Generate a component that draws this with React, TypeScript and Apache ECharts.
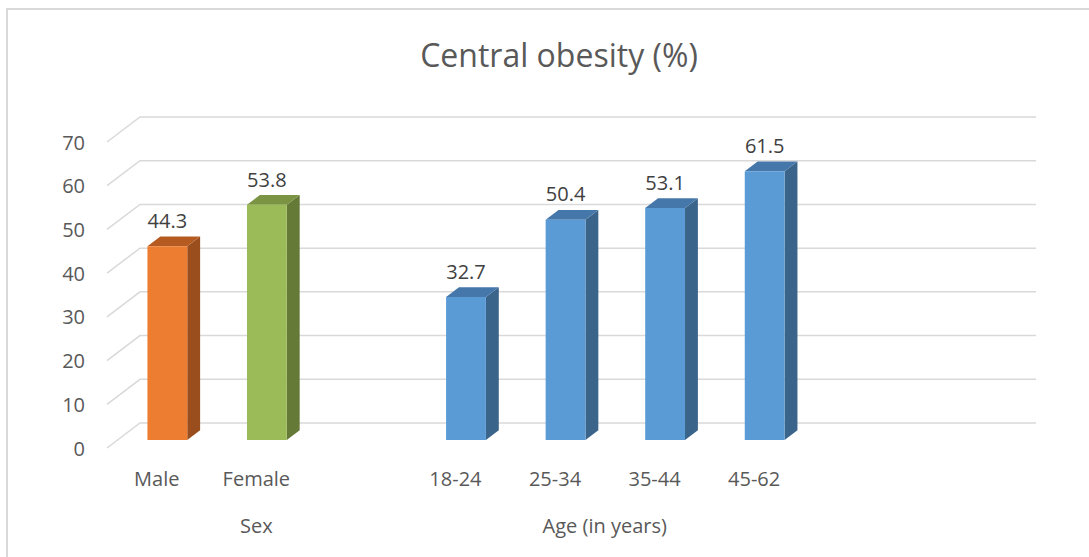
import React, { useEffect, useRef } from "react";
import * as echarts from "echarts";

const sexCategories = ["Male", "Female"];
const sexValues = [44.3, 53.8];
const ageCategories = ["18-24", "25-34", "35-44", "45-62"];
const ageValues = [32.7, 50.4, 53.1, 61.5];
const yTicks = [0, 10, 20, 30, 40, 50, 60, 70];
const groupLabels = ["Sex", "Age (in years)"];
const titleText = "Central obesity (%)";

// styling (kept apart from data)
const sexColors = [
  { front: "#ED7D31", side: "#9A4E1D", top: "#B55B22" },
  { front: "#9BBB59", side: "#667A38", top: "#7A9443" },
];
const ageColor = { front: "#5B9BD5", side: "#3A6489", top: "#4677AA" };
const DX = 33;
const DY = -25;
const F0 = 0.32;
const FD = 0.39;

const categories = [...sexCategories, "", ...ageCategories, "", ""];
const ageStart = sexCategories.length + 1;
const barData: any[] = [
  ...sexValues.map((v, i) => [i, v]),
  ...ageValues.map((v, i) => [ageStart + i, v]),
];
const barColors = [...sexColors, ...ageValues.map(() => ageColor)];
const groupSpans = [
  [0, sexCategories.length],
  [ageStart, ageStart + ageCategories.length - 1],
];

export default function App() {
  const ref = useRef<HTMLDivElement>(null);
  useEffect(() => {
    if (!ref.current) return;
    const chart = echarts.init(ref.current, null, { renderer: "svg" });
    const font = "Open Sans";
    chart.setOption({
      animation: false,
      backgroundColor: "#ffffff",
      title: {
        text: titleText,
        left: 554,
        top: 33,
        textAlign: "center",
        textStyle: { fontFamily: font, fontSize: 32, fontWeight: "normal", color: "#595959" },
      },
      graphic: [
        {
          type: "rect",
          shape: { x: 7, y: 9, width: 1200, height: 700 },
          style: { fill: "none", stroke: "#d9d9d9", lineWidth: 2 },
          silent: true,
        },
      ],
      grid: { left: 107, right: 86, top: 142, bottom: 109, containLabel: false },
      xAxis: {
        type: "category",
        data: categories,
        axisLine: { show: false },
        axisTick: { show: false },
        splitLine: { show: false },
        axisLabel: { fontFamily: font, fontSize: 20, color: "#595959", margin: 20, interval: 0 },
      },
      yAxis: {
        type: "value",
        min: 0,
        max: 70,
        interval: 10,
        axisLine: { show: false },
        axisTick: { show: false },
        splitLine: { show: false },
        axisLabel: { fontFamily: font, fontSize: 20, color: "#595959", margin: 22 },
      },
      series: [
        {
          type: "custom",
          z: 1,
          silent: true,
          data: yTicks.map((t) => [0, t]),
          renderItem: (params: any, api: any) => {
            const cs = params.coordSys;
            const y = api.coord([0, api.value(1)])[1];
            const x0 = cs.x;
            const x1 = cs.x + cs.width;
            return {
              type: "polyline",
              shape: {
                points: [
                  [x0, y],
                  [x0 + DX, y + DY],
                  [x1 + DX, y + DY],
                ],
              },
              style: { stroke: "#d9d9d9", lineWidth: 1.5, fill: "none" },
            };
          },
        },
        {
          type: "custom",
          z: 5,
          data: barData,
          renderItem: (params: any, api: any) => {
            const i = api.value(0);
            const v = api.value(1);
            const c = barColors[params.dataIndex];
            const base = api.coord([i, 0]);
            const top = api.coord([i, v]);
            const band = api.size([1, 0])[0];
            const w = band * 0.4;
            const ox = DX * F0;
            const oy = DY * F0;
            const dx = DX * FD;
            const dy = DY * FD;
            const xl = base[0] - w / 2 + ox;
            const xr = xl + w;
            const yb = base[1] + oy;
            const yt = top[1] + oy;
            return {
              type: "group",
              children: [
                {
                  type: "polygon",
                  shape: { points: [[xr, yt], [xr + dx, yt + dy], [xr + dx, yb + dy], [xr, yb]] },
                  style: { fill: c.side },
                },
                {
                  type: "polygon",
                  shape: { points: [[xl, yt], [xr, yt], [xr + dx, yt + dy], [xl + dx, yt + dy]] },
                  style: { fill: c.top },
                },
                {
                  type: "rect",
                  shape: { x: xl, y: yt, width: w, height: yb - yt },
                  style: { fill: c.front },
                },
                {
                  type: "text",
                  style: {
                    text: String(v),
                    x: (xl + xr) / 2,
                    y: yt + dy - 6,
                    align: "center",
                    verticalAlign: "bottom",
                    fill: "#404040",
                    font: `20px "${font}"`,
                  },
                },
              ],
            };
          },
        },
        {
          type: "custom",
          z: 3,
          silent: true,
          data: groupSpans,
          renderItem: (params: any, api: any) => {
            const cs = params.coordSys;
            const a = api.coord([api.value(0), 0])[0];
            const b = api.coord([api.value(1), 0])[0];
            return {
              type: "text",
              style: {
                text: groupLabels[params.dataIndex],
                x: (a + b) / 2,
                y: cs.y + cs.height + 77,
                align: "center",
                verticalAlign: "middle",
                fill: "#595959",
                font: `20px "${font}"`,
              },
            };
          },
        },
      ],
    });
    return () => chart.dispose();
  }, []);
  return (
    <div
      ref={ref}
      style={{ position: "absolute", left: 0, top: 0, width: 1089, height: 557 }}
    />
  );
}
